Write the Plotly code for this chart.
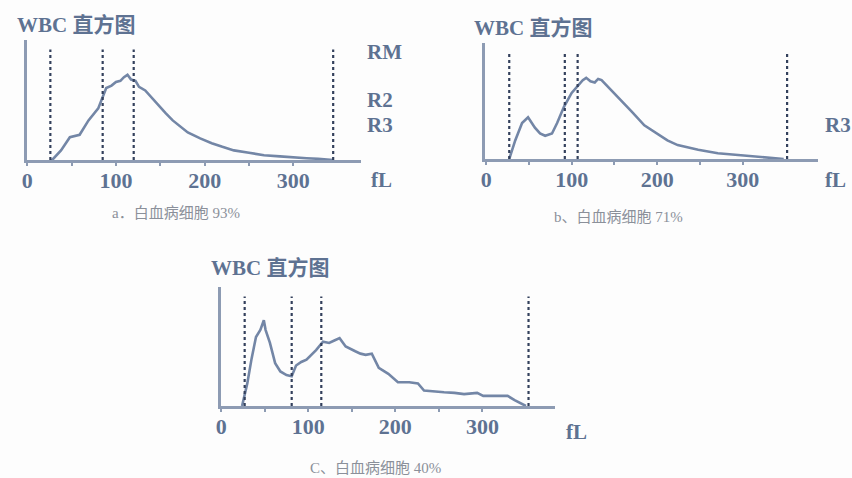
import plotly.graph_objects as go

W, H = 852, 478

# ---------------- data ----------------
a_fl = [26, 28, 38, 48, 59, 69, 80, 89, 95, 100, 105, 109, 113, 117, 122, 126, 133, 140, 148, 156, 164, 172, 181, 195, 208, 220, 233, 250, 267, 285, 300, 315, 328, 345]
a_cnt = [0, 0, 8, 19, 21, 33, 43, 60, 62, 65, 66, 69, 71, 67, 66, 61, 58, 52, 46, 39, 33, 28, 23, 18, 14, 11, 8, 6, 4, 3, 2, 1.5, 1, 0]

b_fl = [27, 34, 42, 49, 57, 63, 69, 77, 83, 91, 100, 108, 113, 117, 122, 127, 131, 135, 143, 155, 170, 185, 201, 212, 224, 248, 271, 294, 317, 348]
b_cnt = [0, 16, 31, 36, 27, 22, 20, 22, 31, 45, 57, 64, 68, 70, 67, 66, 69, 68, 62, 53, 41, 29, 21, 16, 12, 8, 5, 3.5, 2, 0]

c_fl = [24, 30, 35, 40, 45, 49, 51, 56, 62, 68, 75, 81, 86, 92, 98, 104, 109, 117, 124, 130, 136, 143, 148, 154, 160, 166, 173, 181, 192, 203, 216, 226, 233, 245, 256, 268, 279, 294, 301, 316, 329, 337, 350]
c_cnt = [0, 19, 40, 58, 64, 72, 64, 53, 36, 29, 26, 25, 34, 37, 39, 43, 47, 54, 53, 55, 57, 50, 48, 46, 44, 43, 44, 32, 27, 20, 20, 19, 13, 12, 11.5, 11, 10, 11, 8.5, 8.5, 8.5, 5, 0]

a_gates = [26, 85, 120, 345]
b_gates = [27, 92, 107, 352]
c_gates = [27, 81, 115, 353]
gate_top = 92

tick_vals = [0, 50, 100, 150, 200, 250, 300]
tick_text = ["0", "", "100", "", "200", "", "300"]

title_text = "WBC 直方图"
captions = ["a．白血病细胞 93%", "b、白血病细胞 71%", "C、白血病细胞 40%"]
right_labels_a = ["RM", "R2", "R3"]
right_labels_b = ["R3"]

# ---------------- style ----------------
LINE = "#7386a6"
TEXT = "#5e7292"
GATE = "#33405c"
AXIS = "#8d9bb3"
SERIF = "Liberation Serif, Noto Sans CJK SC"

# panel geometry in pixels
panels = [
    dict(z=22, s=0.893, l=22, r=358, b=160, t=40, fl=a_fl, cnt=a_cnt, gates=a_gates),
    dict(z=484, s=0.86, l=483, r=818, b=159, t=43, fl=b_fl, cnt=b_cnt, gates=b_gates),
    dict(z=217, s=0.877, l=217, r=553, b=406, t=287, fl=c_fl, cnt=c_cnt, gates=c_gates),
]

fig = go.Figure()
layout = {}
for i, p in enumerate(panels):
    n = "" if i == 0 else str(i + 1)
    xa, ya = "x" + n, "y" + n
    fig.add_trace(go.Scatter(x=p["fl"], y=p["cnt"], mode="lines",
                             line=dict(color=LINE, width=2.6), xaxis=xa, yaxis=ya,
                             showlegend=False, hoverinfo="skip"))
    for g in p["gates"]:
        fig.add_trace(go.Scatter(x=[g, g], y=[0, gate_top], mode="lines",
                                 line=dict(color=GATE, width=2.2, dash="dot"),
                                 xaxis=xa, yaxis=ya, showlegend=False, hoverinfo="skip"))
    x_lo = min((p["l"] - p["z"]) / p["s"], -0.5)
    x_hi = (p["r"] - p["z"]) / p["s"]
    layout["xaxis" + n] = dict(
        domain=[p["l"] / W, p["r"] / W], range=[x_lo, x_hi], anchor=ya,
        showline=True, linecolor=AXIS, linewidth=2.5, showgrid=False, zeroline=False,
        tickmode="array", tickvals=tick_vals, ticktext=tick_text,
        ticks="outside", ticklen=3, tickwidth=2, tickcolor=AXIS,
        tickfont=dict(family=SERIF, size=22, color=TEXT, weight="bold"),
        ticklabelstandoff=-4, fixedrange=True,
    )
    layout["yaxis" + n] = dict(
        domain=[1 - p["b"] / H, 1 - p["t"] / H], range=[0, 100], anchor=xa,
        showline=True, linecolor=AXIS, linewidth=2.5, showgrid=False, zeroline=False,
        showticklabels=False, ticks="", fixedrange=True,
    )

ann = []
def add_text(txt, x, y, size, color=TEXT, bold=True, xanchor="left", family=SERIF):
    ann.append(dict(text=txt, x=x / W, y=1 - y / H, xref="paper", yref="paper",
                    xanchor=xanchor, yanchor="middle", showarrow=False,
                    font=dict(family=family, size=size, color=color,
                              weight="bold" if bold else "normal")))

# titles
add_text(title_text, 10, 25, 21)
add_text(title_text, 470, 28, 21)
add_text(title_text, 205, 268, 21)
# fL labels
add_text("fL", 366, 180, 21)
add_text("fL", 823, 180, 21)
add_text("fL", 562, 432, 21)
# gate labels
for lab, yy in zip(right_labels_a, [52, 100, 125]):
    add_text(lab, 362, yy, 21)
for lab, yy in zip(right_labels_b, [125]):
    add_text(lab, 823, yy, 21)
# captions
cap_style = dict(size=15, color="#8b909a", bold=False, xanchor="center",
                 family="Liberation Serif, Noto Sans CJK SC")
add_text(captions[0], 172, 213, **cap_style)
add_text(captions[1], 617, 217, **cap_style)
add_text(captions[2], 373, 468, **cap_style)

fig.update_layout(
    width=W, height=H, margin=dict(l=0, r=0, t=0, b=0),
    paper_bgcolor="#fdfdfd", plot_bgcolor="rgba(0,0,0,0)",
    annotations=ann, **layout,
)
fig.write_html("out.html", config={"displayModeBar": False})
